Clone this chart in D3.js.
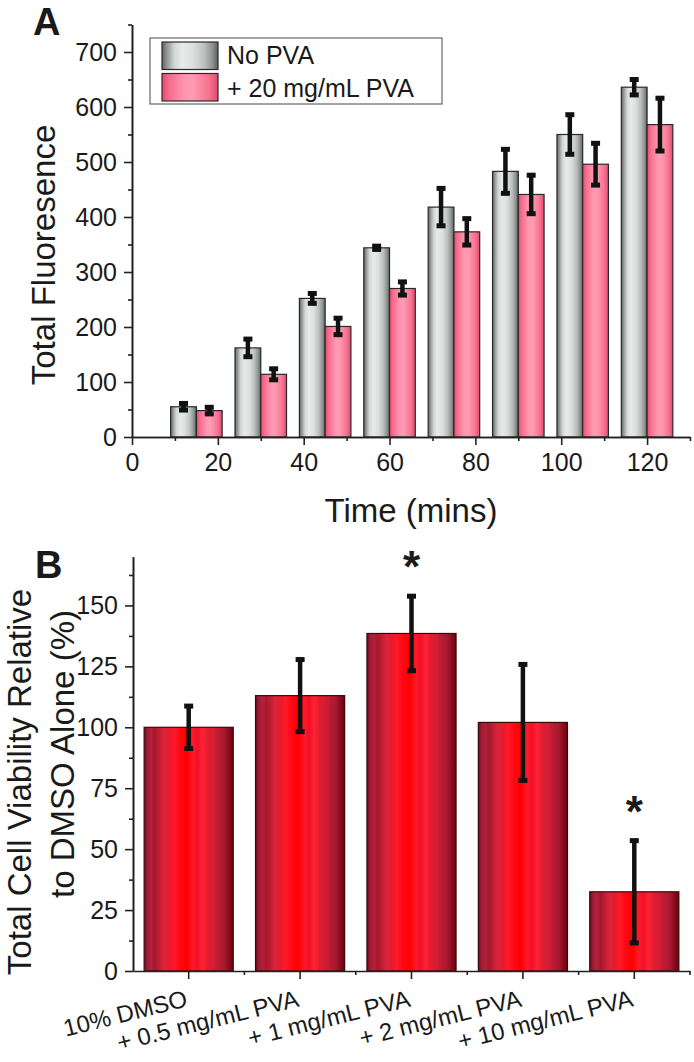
<!DOCTYPE html>
<html><head><meta charset="utf-8">
<script src="https://cdn.jsdelivr.net/npm/d3@7"></script>
<style>
body{margin:0;background:#fff}
svg{display:block}
text{font-family:Arial,"Liberation Sans",sans-serif;fill:#1a1a1a}
</style>
</head><body>
<svg id="c" width="694" height="1062"></svg>
<script>
// ---------- Panel A data ----------
const timePoints = [15, 30, 45, 60, 75, 90, 105, 120];
const noPVA      = [55, 162, 252, 344, 418, 483, 550, 636];
const noPVAErr   = [6, 16, 9, 3, 34, 40, 36, 14];
const pva20      = [48, 114, 201, 270, 373, 441, 496, 568];
const pva20Err   = [6, 10, 15, 12, 24, 35, 38, 48];
const seriesNames = ["No PVA", "+ 20 mg/mL PVA"];
const xTicksA = [0, 20, 40, 60, 80, 100, 120];
const yTicksA = [0, 100, 200, 300, 400, 500, 600, 700];

// ---------- Panel B data ----------
const treatments   = ["10% DMSO", "+ 0.5 mg/mL PVA", "+ 1 mg/mL PVA", "+ 2 mg/mL PVA", "+ 10 mg/mL PVA"];
const viability    = [100, 113, 138.5, 102, 32.5];
const viabilityErr = [8.7, 14.8, 15.3, 23.8, 21];
const significant  = [false, false, true, false, true];
const yTicksB = [0, 25, 50, 75, 100, 125, 150];

const svg = d3.select("#c");
const defs = svg.append("defs");
function grad(id, stops){
  const g = defs.append("linearGradient").attr("id", id).attr("x1","0").attr("x2","1").attr("y1","0").attr("y2","0");
  stops.forEach(s => g.append("stop").attr("offset", s[0]).attr("stop-color", s[1]));
}
grad("gGray", [[0,"#5f6462"],[0.08,"#8d9290"],[0.22,"#d2d7d5"],[0.36,"#e6ebe9"],[0.55,"#dce1df"],[0.75,"#bcc1bf"],[0.9,"#8e9391"],[1,"#5a5f5d"]]);
grad("gPink", [[0,"#e6486e"],[0.12,"#f56a8c"],[0.4,"#ff97b0"],[0.55,"#ff9bb3"],[0.85,"#f5708f"],[1,"#e2466b"]]);
grad("gRed", [[0,"#7a0a18"],[0.04,"#a01c3a"],[0.08,"#b52038"],[0.12,"#a3182e"],[0.17,"#c41c32"],[0.22,"#d8263c"],[0.28,"#e81a2c"],[0.34,"#ff1828"],[0.4,"#ff0814"],[0.48,"#ff0000"],[0.55,"#ff1a2a"],[0.6,"#f0102a"],[0.66,"#ff2234"],[0.72,"#e01c30"],[0.78,"#d21e36"],[0.84,"#bc1a30"],[0.9,"#a41a30"],[0.95,"#8a0c1c"],[1,"#6e0010"]]);

function styleAxis(g){
  g.selectAll("path.domain").attr("stroke","#222").attr("stroke-width",1.6);
  g.selectAll(".tick line").attr("stroke","#222").attr("stroke-width",1.6);
  g.selectAll("text").style("font-size","25px").attr("fill","#1a1a1a");
}

// ================= Panel A =================
const xA = d3.scaleLinear().domain([0, 130]).range([132, 690]);
const yA = d3.scaleLinear().domain([0, 750]).range([437, 24.5]);
const barW = 6;

const gA = svg.append("g");
const groupsA = [
  {vals: noPVA, errs: noPVAErr, fill: "url(#gGray)", off: -barW},
  {vals: pva20, errs: pva20Err, fill: "url(#gPink)", off: 0}
];
groupsA.forEach(s => {
  gA.selectAll(null).data(timePoints).enter().append("rect")
    .attr("x", (t) => xA(t + s.off))
    .attr("width", xA(barW) - xA(0))
    .attr("y", (t,i) => yA(s.vals[i]))
    .attr("height", (t,i) => yA(0) - yA(s.vals[i]))
    .attr("fill", s.fill).attr("stroke", "#2a2a2a").attr("stroke-width", 1.2);
});
groupsA.forEach(s => {
  timePoints.forEach((t,i) => {
    const cx = xA(t + s.off + barW/2);
    const y1 = yA(s.vals[i] + s.errs[i]), y2 = yA(s.vals[i] - s.errs[i]);
    gA.append("line").attr("x1",cx).attr("x2",cx).attr("y1",y1).attr("y2",y2).attr("stroke","#111").attr("stroke-width",4.5);
    [y1,y2].forEach(yy => gA.append("line").attr("x1",cx-4.5).attr("x2",cx+4.5).attr("y1",yy).attr("y2",yy).attr("stroke","#111").attr("stroke-width",5));
  });
});

// axes A
const axYA = svg.append("g").attr("transform",`translate(${xA(0)},0)`)
  .call(d3.axisLeft(yA).tickValues(yTicksA).tickSize(8).tickPadding(7).tickSizeOuter(0));
styleAxis(axYA);
const axYAm = svg.append("g").attr("transform",`translate(${xA(0)},0)`)
  .call(d3.axisLeft(yA).tickValues(d3.range(50, 751, 100)).tickSize(4).tickFormat("").tickSizeOuter(0));
styleAxis(axYAm);
const axXA = svg.append("g").attr("transform",`translate(0,${yA(0)})`)
  .call(d3.axisBottom(xA).tickValues(xTicksA).tickSize(8).tickPadding(8).tickSizeOuter(0));
styleAxis(axXA);
const axXAm = svg.append("g").attr("transform",`translate(0,${yA(0)})`)
  .call(d3.axisBottom(xA).tickValues(d3.range(10, 131, 20)).tickSize(4).tickFormat("").tickSizeOuter(0));
styleAxis(axXAm);

svg.append("text").attr("transform","translate(55,255) rotate(-90)").attr("text-anchor","middle")
  .style("font-size","33px").text("Total Fluoresence");
svg.append("text").attr("x",411).attr("y",522).attr("text-anchor","middle")
  .style("font-size","33px").text("Time (mins)");
svg.append("text").attr("x",33).attr("y",35).style("font-size","38px").style("font-weight","bold").text("A");

// legend
const lg = svg.append("g");
lg.append("rect").attr("x",150).attr("y",38).attr("width",292).attr("height",66)
  .attr("fill","#fff").attr("stroke","#666").attr("stroke-width",1.2);
["url(#gGray)","url(#gPink)"].forEach((f,i) => {
  lg.append("rect").attr("x",162).attr("y",42 + i*31.5).attr("width",56).attr("height",27.5)
    .attr("fill",f).attr("stroke","#2a2a2a").attr("stroke-width",1.2);
  lg.append("text").attr("x",227).attr("y",64 + i*32.5).style("font-size","25px").text(seriesNames[i]);
});

// ================= Panel B =================
const xB = d3.scaleBand().domain(treatments).range([133, 690]).paddingInner(0.2).paddingOuter(0.1);
const yB = d3.scaleLinear().domain([0, 170]).range([971, 556.7]);
const gB = svg.append("g");
gB.selectAll(null).data(treatments).enter().append("rect")
  .attr("x", d => xB(d)).attr("width", xB.bandwidth())
  .attr("y", (d,i) => yB(viability[i])).attr("height", (d,i) => yB(0) - yB(viability[i]))
  .attr("fill","url(#gRed)").attr("stroke","#3a0a0a").attr("stroke-width",1.2);
treatments.forEach((d,i) => {
  const cx = xB(d) + xB.bandwidth()/2;
  const y1 = yB(viability[i] + viabilityErr[i]), y2 = yB(viability[i] - viabilityErr[i]);
  gB.append("line").attr("x1",cx).attr("x2",cx).attr("y1",y1).attr("y2",y2).attr("stroke","#111").attr("stroke-width",4.5);
  [y1,y2].forEach(yy => gB.append("line").attr("x1",cx-4.5).attr("x2",cx+4.5).attr("y1",yy).attr("y2",yy).attr("stroke","#111").attr("stroke-width",5));
  if (significant[i]) {
    gB.append("text").attr("x",cx).attr("y",y1 - 14).attr("text-anchor","middle")
      .style("font-size","44px").style("font-weight","bold").text("*");
  }
});

const axYB = svg.append("g").attr("transform","translate(133,0)")
  .call(d3.axisLeft(yB).tickValues(yTicksB).tickSize(8).tickPadding(7).tickSizeOuter(0));
styleAxis(axYB);
const axYBm = svg.append("g").attr("transform","translate(133,0)")
  .call(d3.axisLeft(yB).tickValues(d3.range(12.5, 170, 25)).tickSize(4).tickFormat("").tickSizeOuter(0));
styleAxis(axYBm);
const axXB = svg.append("g").attr("transform",`translate(0,${yB(0)})`)
  .call(d3.axisBottom(xB).tickSize(8).tickFormat("").tickSizeOuter(0));
styleAxis(axXB);
// minor ticks at band boundaries
const step = xB.step();
const bounds = treatments.slice(0, -1).map(d => xB(d) + xB.bandwidth()/2 + step/2);
bounds.push(690);
bounds.forEach(bx => svg.append("line").attr("x1",bx).attr("x2",bx).attr("y1",yB(0)).attr("y2",yB(0)+4)
  .attr("stroke","#222").attr("stroke-width",1.6));
treatments.forEach(d => {
  const cx = xB(d) + xB.bandwidth()/2;
  svg.append("text").attr("transform",`translate(${cx},1006) rotate(-14)`).attr("text-anchor","end")
    .style("font-size","24px").text(d);
});

svg.append("text").attr("transform","translate(31,782) rotate(-90)").attr("text-anchor","middle")
  .style("font-size","33px").text("Total Cell Viability Relative");
svg.append("text").attr("transform","translate(74,754) rotate(-90)").attr("text-anchor","middle")
  .style("font-size","33px").text("to DMSO Alone (%)");
svg.append("text").attr("x",35).attr("y",578).style("font-size","38px").style("font-weight","bold").text("B");
</script>
</body></html>
